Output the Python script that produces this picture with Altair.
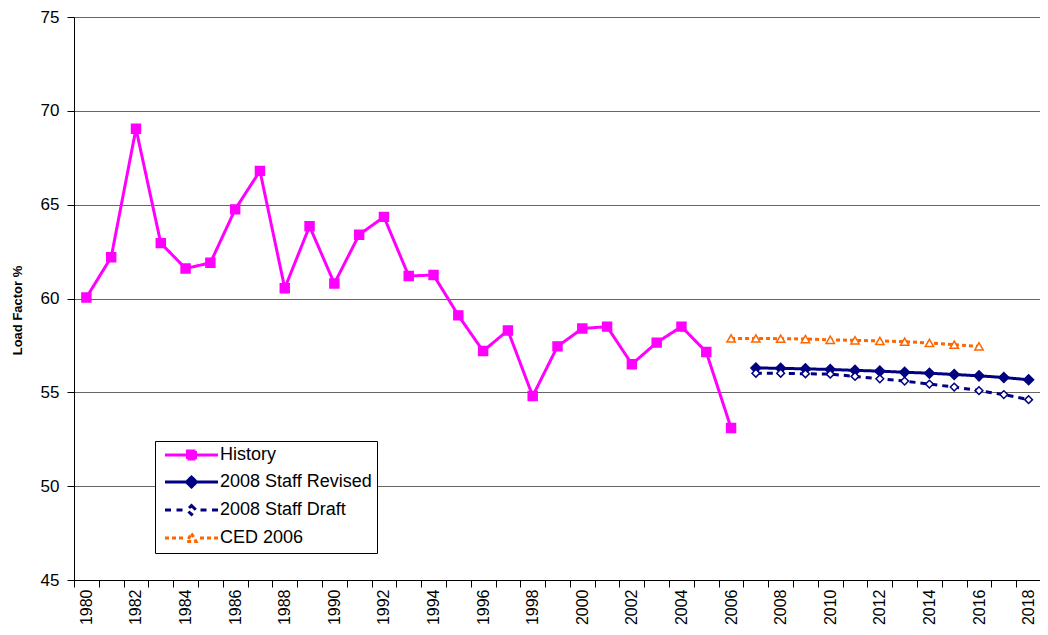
import altair as alt
import pandas as pd

# ---- data ----
years = list(range(1980, 2019))
hist_years = list(range(1980, 2007))
hist_vals = [60.05, 62.2, 69.05, 62.95, 61.6, 61.9, 64.75, 66.8, 60.55, 63.85,
             60.8, 63.4, 64.35, 61.2, 61.25, 59.1, 57.2, 58.3, 54.8, 57.45,
             58.4, 58.5, 56.5, 57.65, 58.5, 57.15, 53.1]
rev_years = list(range(2007, 2019))
rev_vals = [56.3, 56.28, 56.25, 56.22, 56.17, 56.13, 56.07, 56.02, 55.95, 55.88, 55.79, 55.67]
draft_years = list(range(2007, 2019))
draft_vals = [56.02, 56.02, 55.99, 55.97, 55.85, 55.72, 55.6, 55.44, 55.28, 55.09, 54.88, 54.61]
ced_years = list(range(2006, 2017))
ced_vals = [57.87, 57.87, 57.86, 57.84, 57.8, 57.77, 57.74, 57.7, 57.63, 57.54, 57.45]
series_names = ["History", "2008 Staff Revised", "2008 Staff Draft", "CED 2006"]
y_ticks = [45, 50, 55, 60, 65, 70, 75]

rows = []
for name, ys, vs in zip(series_names,
                        [hist_years, rev_years, draft_years, ced_years],
                        [hist_vals, rev_vals, draft_vals, ced_vals]):
    rows += [{"series": name, "year": y, "value": v} for y, v in zip(ys, vs)]
df = pd.DataFrame(rows)

# ---- styles ----
FONT = "Liberation Sans"
colors = ["#FF00FF", "#000080", "#000080", "#FF6600"]
dashes = [[1, 0], [1, 0], [6, 5], [4, 3]]
widths = [3, 3, 2.5, 1.5]
shapes = ["square", "diamond", "diamond", "triangle-up"]
fills = ["#FF00FF", "#000080", "#FFFFFF", "#FFFFFF"]
sizes = [80, 100, 60, 70]


def seg(a, b):
    return f"M{a},0L{b},0"


legend_paths = [
    seg(-5.3, 5.3) + "M-0.8,-0.8L0.8,-0.8L0.8,0.8L-0.8,0.8Z",
    seg(-5.3, 5.3) + "M0,-1L1,0L0,1L-1,0Z",
    seg(-5.3, -4.1) + seg(-3.0, -1.8) + seg(1.8, 3.0) + seg(4.1, 5.3)
    + "M0,-0.9L0.9,0L0,0.9L-0.9,0Z",
    seg(-5.3, -4.5) + seg(-3.9, -3.1) + seg(-2.5, -1.7) + seg(1.7, 2.5) + seg(3.1, 3.9) + seg(4.5, 5.3)
    + "M0,-0.9L0.9,0.7L-0.9,0.7Z",
]
legend_sw = [2.5, 2.5, 2, 1.5]


def by_series(values, quote=True):
    expr = repr(values[-1]) if quote else str(values[-1])
    for name, v in reversed(list(zip(series_names[:-1], values[:-1]))):
        vv = repr(v) if quote else str(v)
        expr = f"datum.value === '{name}' ? {vv} : ({expr})"
    return expr


legend = alt.Legend(
    title=None, orient="none", legendX=81, legendY=424,
    padding=5, strokeColor="black", fillColor="white",
    labelFont=FONT, labelFontSize=18, labelColor="black",
    symbolSize=100, symbolOffset=22.5, labelOffset=19.5, rowPadding=6,
    symbolType={"expr": by_series(legend_paths)},
    symbolFillColor={"expr": by_series(fills)},
    symbolStrokeColor={"expr": by_series(colors)},
    symbolStrokeWidth={"expr": by_series(legend_sw, quote=False)},
    symbolDash=[1, 0],
    symbolOpacity=1,
)

x_scale = alt.Scale(type="band", domain=years, paddingInner=0, paddingOuter=0, range=[0, 967])
x_enc = alt.X(
    "year:O", scale=x_scale,
    axis=alt.Axis(title=None, labelAngle=270, labelExpr="datum.value % 2 === 0 ? datum.label : ''",
                  tickBand="extent", tickSize=7, tickColor="black", domainColor="black",
                  labelFont=FONT, labelFontSize=16, labelColor="black", labelPadding=2,
                  labelOverlap=False, grid=False),
)
y_enc = alt.Y(
    "value:Q",
    scale=alt.Scale(domain=[45, 75], nice=False, zero=False),
    axis=alt.Axis(values=y_ticks, title="Load Factor %", titleFont=FONT, titleFontSize=13,
                  titleFontWeight="bold", titleColor="black", titleX=-50, titleY=293,
                  titleAngle=270, titleAlign="center",
                  labelFont=FONT, labelFontSize=17, labelColor="black", labelPadding=8,
                  tickSize=7, tickColor="black", domainColor="black",
                  gridColor="#666666", gridWidth=1),
)

base = alt.Chart(df)

lines = base.mark_line().encode(
    x=x_enc, y=y_enc,
    color=alt.Color("series:N", scale=alt.Scale(domain=series_names, range=colors), legend=legend),
    strokeDash=alt.StrokeDash("series:N", scale=alt.Scale(domain=series_names, range=dashes), legend=None),
    strokeWidth=alt.StrokeWidth("series:N", scale=alt.Scale(domain=series_names, range=widths), legend=None),
    detail="series:N",
)

point_layers = []
for name, shp, col, fil, sz in zip(series_names, shapes, colors, fills, sizes):
    point_layers.append(
        base.transform_filter(alt.datum.series == name).mark_point(
            shape=shp, stroke=col, fill=fil, size=sz, strokeWidth=1.5, opacity=1, fillOpacity=1
        ).encode(x=x_enc, y=y_enc)
    )

chart = alt.layer(lines, *point_layers).properties(
    width=966, height=563,
    autosize=alt.AutoSizeParams(type="none"),
    padding={"left": 66, "top": 9, "right": 0, "bottom": 50},
    background="white",
).configure_view(stroke=None).configure(font=FONT)

chart.save("out.html", embed_options={"renderer": "svg", "actions": False})
